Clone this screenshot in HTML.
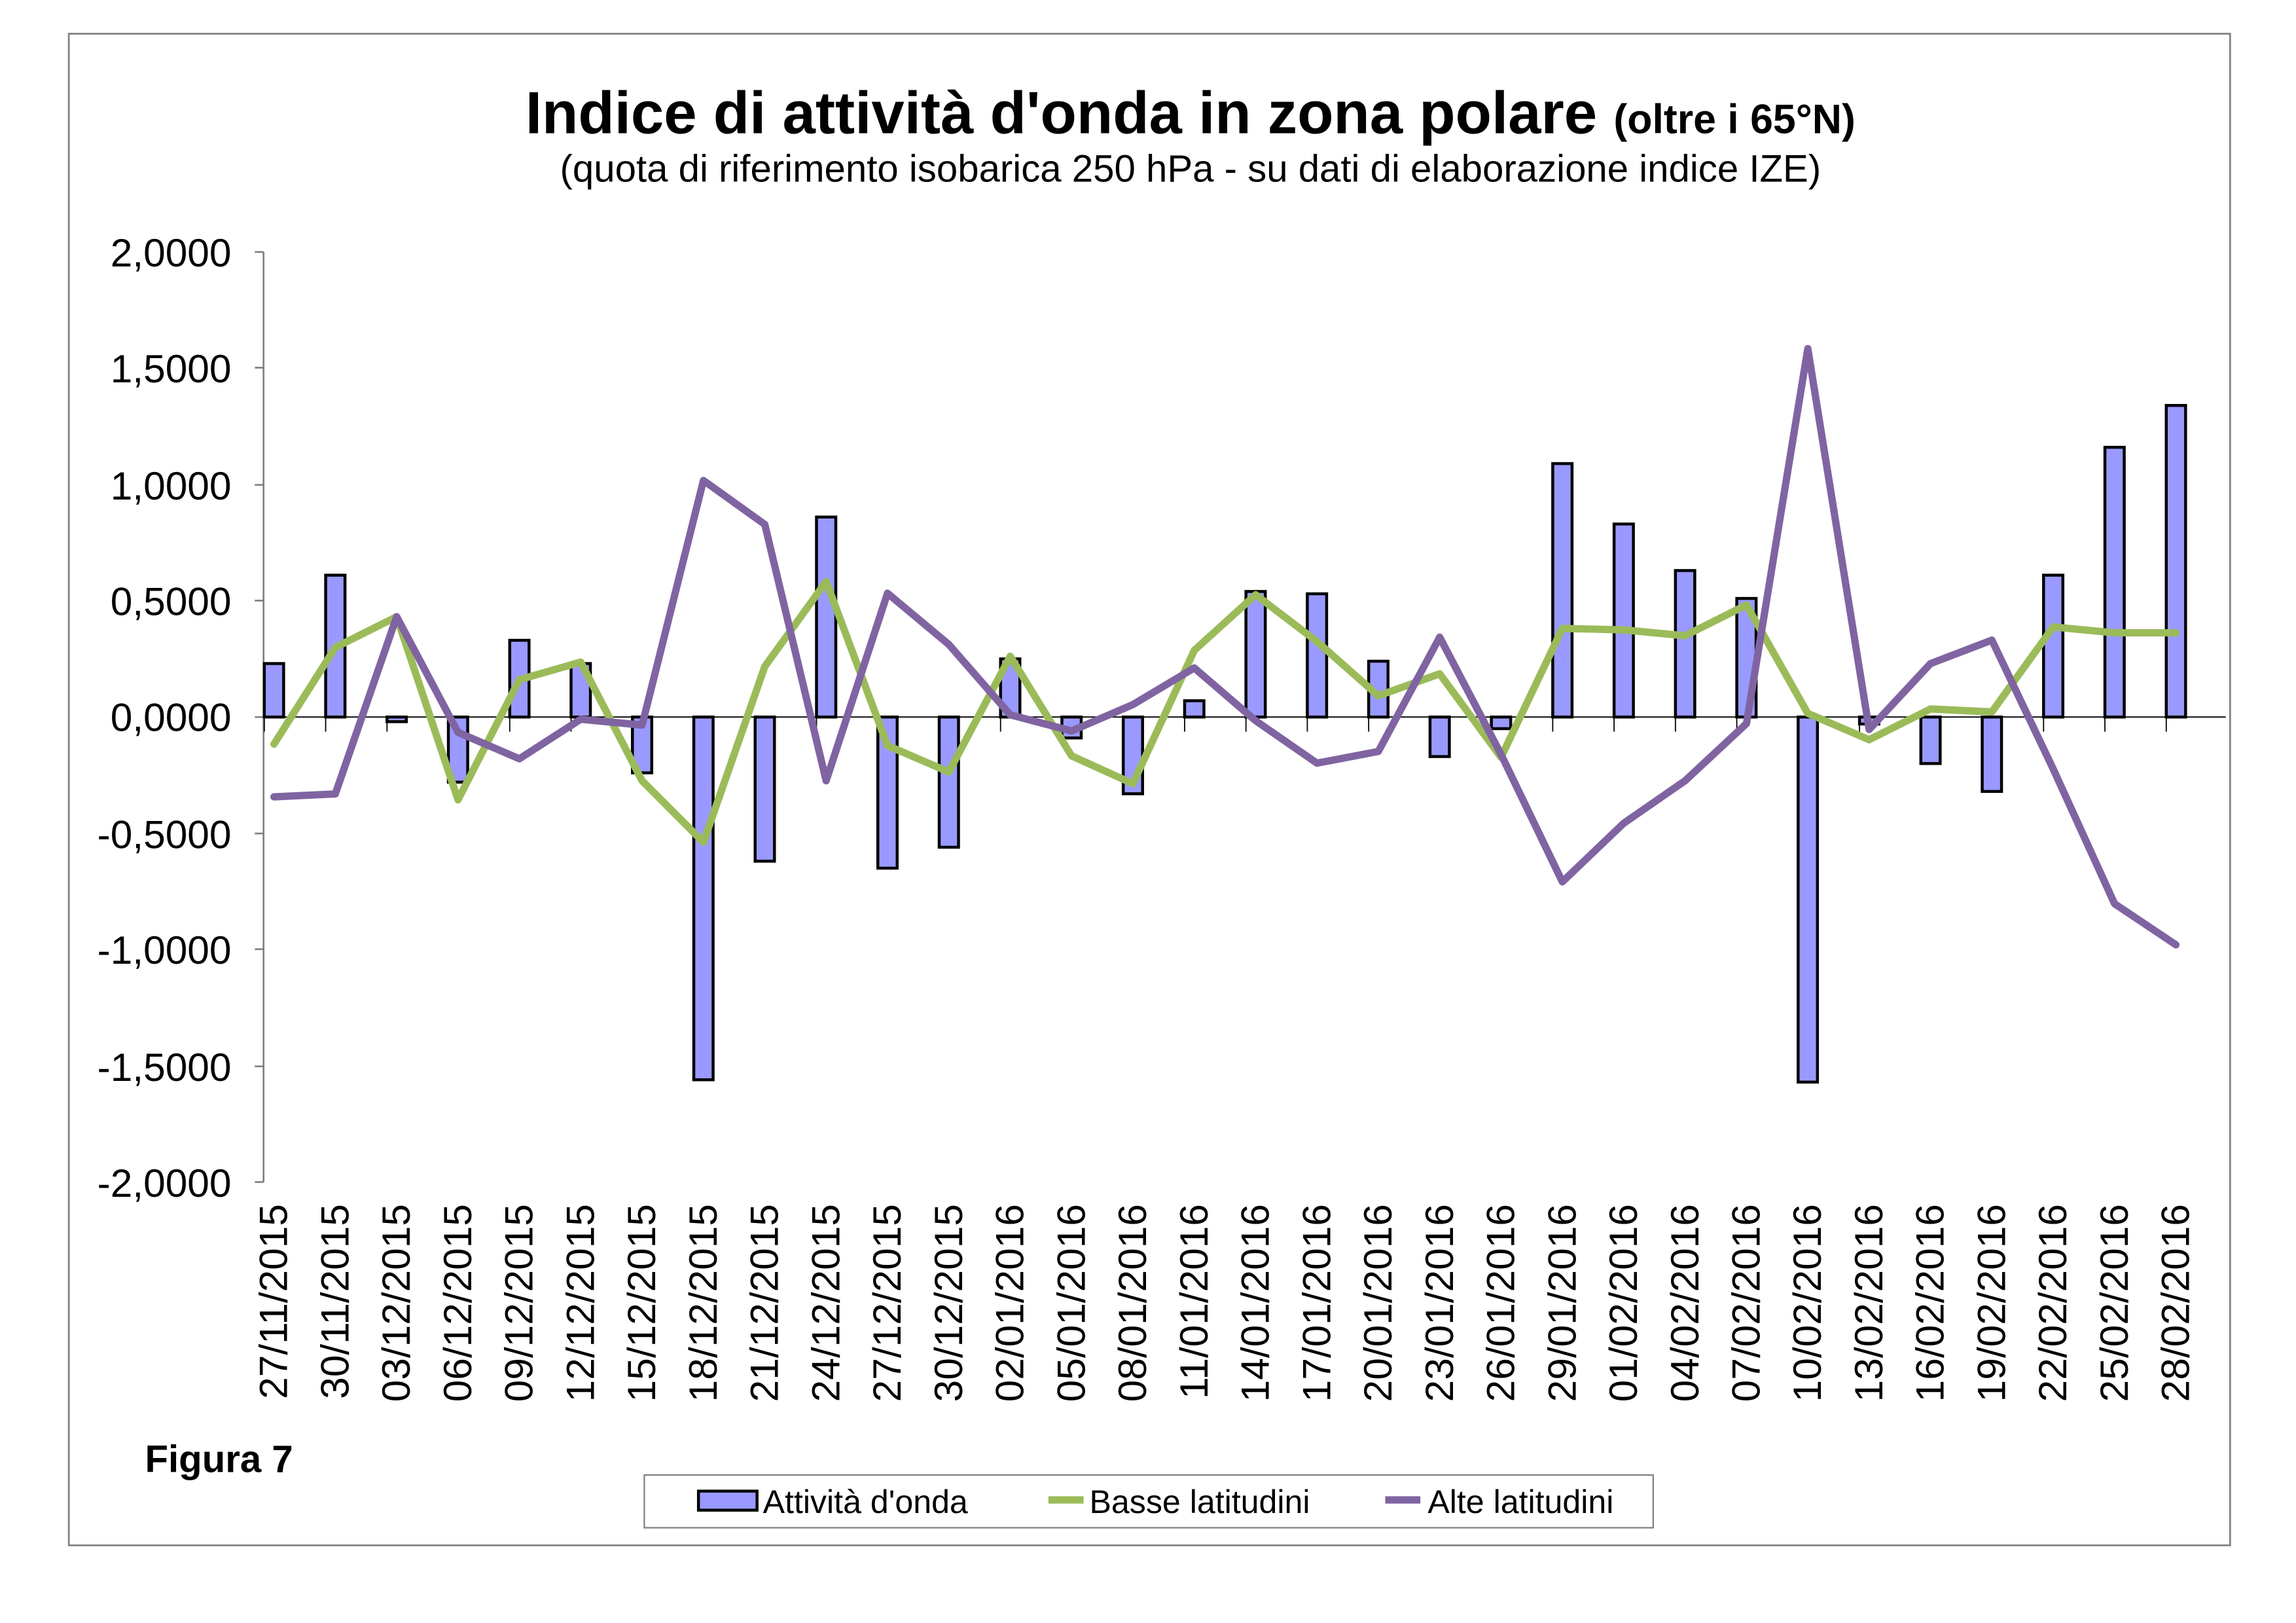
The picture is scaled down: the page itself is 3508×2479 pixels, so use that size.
<!DOCTYPE html>
<html><head><meta charset="utf-8"><style>html,body{margin:0;padding:0;background:#fff}svg{display:block}</style></head>
<body>
<svg width="3508" height="2479" viewBox="0 0 1568 1108" xmlns="http://www.w3.org/2000/svg" font-family="Liberation Sans, Arial, sans-serif">
<rect x="0" y="0" width="1568" height="1108" fill="#fff"/>
<rect x="47" y="23" width="1476" height="1032" fill="none" stroke="#808080" stroke-width="1.2"/>
<text x="813" y="91" text-anchor="middle" font-size="40.5" font-weight="bold">Indice di attività d'onda in zona polare <tspan font-size="28">(oltre i 65°N)</tspan></text>
<text x="813" y="124" text-anchor="middle" font-size="26">(quota di riferimento isobarica 250 hPa - su dati di elaborazione indice IZE)</text>
<g font-size="27" text-anchor="end">
<text x="158" y="182">2,0000</text><text x="158" y="261">1,5000</text><text x="158" y="341">1,0000</text><text x="158" y="420">0,5000</text><text x="158" y="499">0,0000</text><text x="158" y="579">-0,5000</text><text x="158" y="658">-1,0000</text><text x="158" y="738">-1,5000</text><text x="158" y="817">-2,0000</text>
</g>
<g stroke="#808080" stroke-width="1.2">
<line x1="180" y1="172" x2="180" y2="807"/>
<line x1="174" y1="172" x2="180" y2="172"/><line x1="174" y1="251" x2="180" y2="251"/><line x1="174" y1="331" x2="180" y2="331"/><line x1="174" y1="410" x2="180" y2="410"/><line x1="174" y1="489.5" x2="180" y2="489.5"/><line x1="174" y1="569" x2="180" y2="569"/><line x1="174" y1="648" x2="180" y2="648"/><line x1="174" y1="728" x2="180" y2="728"/><line x1="174" y1="807" x2="180" y2="807"/>
</g>
<line x1="180" y1="489.5" x2="1520" y2="489.5" stroke="#000" stroke-width="0.8"/>
<g id="ticks" stroke="#000" stroke-width="0.8"></g>
<g id="bars" fill="#9999ff" stroke="#000" stroke-width="2"></g>
<polyline id="green" fill="none" stroke="#9bbb59" stroke-width="5" stroke-linejoin="round" stroke-linecap="round"/>
<polyline id="purple" fill="none" stroke="#8064a2" stroke-width="5" stroke-linejoin="round" stroke-linecap="round"/>
<g id="labels" font-size="27"></g>
<text x="99" y="1005" font-size="26" font-weight="bold">Figura 7</text>
<rect x="440" y="1007" width="689" height="36" fill="#fff" stroke="#808080" stroke-width="1"/>
<rect x="477" y="1018" width="40" height="13" fill="#9999ff" stroke="#000" stroke-width="2"/>
<text x="521" y="1033" font-size="22.4">Attività d'onda</text>
<line x1="716" y1="1024" x2="740" y2="1024" stroke="#9bbb59" stroke-width="5"/>
<text x="744" y="1033" font-size="22.4">Basse latitudini</text>
<line x1="946" y1="1024" x2="970" y2="1024" stroke="#8064a2" stroke-width="5"/>
<text x="975" y="1033" font-size="22.4">Alte latitudini</text>
<script>
var ns="http://www.w3.org/2000/svg";
var bars=[0.23,0.61,-0.02,-0.28,0.33,0.23,-0.24,-1.56,-0.62,0.86,-0.65,-0.56,0.25,-0.09,-0.33,0.07,0.54,0.53,0.24,-0.17,-0.05,1.09,0.83,0.63,0.51,-1.57,-0.03,-0.20,-0.32,0.61,1.16,1.34];
var g=[508,442,421,546,464,452,533,575,455,397,509,527,448,516,535,444,406,438,475,460,517,429,430,434,413,487,505,484,486,428,432,432];
var p=[544,542,421,500,518,491,495,328,358,533,405,440,488,499,481,456,492,521,513,435,515,602,562,533,494,238,498,453,437,525,617,645];
var dates=["27/11/2015","30/11/2015","03/12/2015","06/12/2015","09/12/2015","12/12/2015","15/12/2015","18/12/2015","21/12/2015","24/12/2015","27/12/2015","30/12/2015","02/01/2016","05/01/2016","08/01/2016","11/01/2016","14/01/2016","17/01/2016","20/01/2016","23/01/2016","26/01/2016","29/01/2016","01/02/2016","04/02/2016","07/02/2016","10/02/2016","13/02/2016","16/02/2016","19/02/2016","22/02/2016","25/02/2016","28/02/2016"];
var W=41.9,z=489.5,s=158.75;
var B=document.getElementById('bars'),T=document.getElementById('ticks'),L=document.getElementById('labels');
var gp=[],pp=[];
for(var i=0;i<32;i++){
 var x=180.5+W*i;
 var v=bars[i],h=Math.abs(v)*s; if(h<2)h=2;
 var r=document.createElementNS(ns,'rect');
 r.setAttribute('x',x);r.setAttribute('width',13.2);
 r.setAttribute('y',v>=0?z-h:z);r.setAttribute('height',h);
 B.appendChild(r);
 var t=document.createElementNS(ns,'line');
 t.setAttribute('x1',x);t.setAttribute('x2',x);t.setAttribute('y1',z);t.setAttribute('y2',z+10);T.appendChild(t);
 var cx=x+6.6;
 gp.push(cx+','+g[i]);pp.push(cx+','+p[i]);
 var tx=document.createElementNS(ns,'text');
 tx.setAttribute('transform','translate('+(cx+9)+',822) rotate(-90)');
 tx.setAttribute('text-anchor','end');tx.textContent=dates[i];L.appendChild(tx);
}
document.getElementById('green').setAttribute('points',gp.join(' '));
document.getElementById('purple').setAttribute('points',pp.join(' '));
</script>
</svg>
</body></html>
